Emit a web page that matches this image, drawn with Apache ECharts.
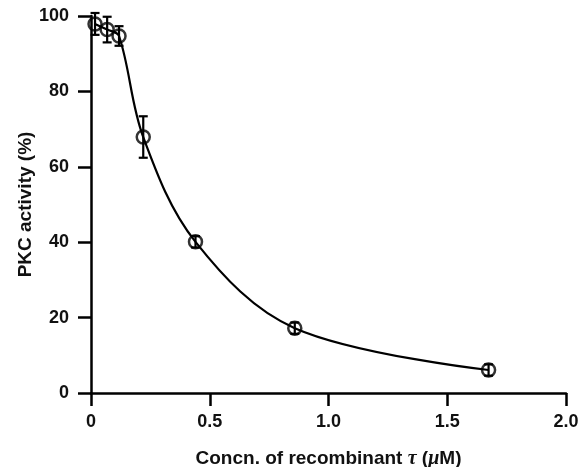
<!DOCTYPE html>
<html lang="en">
<head>
    <meta charset="UTF-8">
    <title>PKC activity</title>
    <script src="https://cdn.jsdelivr.net/npm/echarts@6/dist/echarts.min.js"></script>
    <style>
        body{ margin:0; background:#fff; }
        #main{ width:582px; height:467px; }
    </style>
</head>
<body>
    <div id="main"></div>
<script>
    // concentration (uM), activity (%), error (+/-)
    var concn = [0.017, 0.068, 0.118, 0.22, 0.44, 0.858, 1.674];
    var activity = [97.9, 96.4, 94.7, 67.9, 40.1, 17.2, 6.1];
    var errs = [2.9, 3.4, 2.6, 5.5, 1.5, 1.5, 1.5];
    var xTicks = ['0', '0.5', '1.0', '1.5', '2.0'];

    var pts = concn.map(function(x, i){ return [x, activity[i]]; });
    var errData = concn.map(function(x, i){ return [x, activity[i], errs[i]]; });

    var myChart = echarts.init(document.getElementById('main'));
    var lbl = { color:'#111', fontFamily:'Liberation Sans', fontWeight:'bold', fontSize:18 };

    var option = {
        animation: false,
        grid: { left: 91, right: 16, top: 16, bottom: 74, outerBoundsMode: 'none' },
        xAxis: {
            type: 'value', min: 0, max: 2, interval: 0.5,
            name: 'Concn. of recombinant {i|τ} ({i|μ}M)',
            nameLocation: 'middle', nameGap: 56,
            nameMoveOverlap: false,
            nameTextStyle: {
                color:'#111', fontFamily:'Liberation Sans', fontWeight:'bold', fontSize:19,
                rich: { i: { fontStyle:'italic', fontFamily:'Liberation Serif', fontWeight:'bold', fontSize:20, color:'#111' } }
            },
            axisLine: { lineStyle: { color:'#000', width:2.5 } },
            axisTick: { inside:false, length:13, lineStyle:{ color:'#000', width:2.5 } },
            axisLabel: Object.assign({ margin: 20, formatter: function(v){ return xTicks[Math.round(v / 0.5)]; } }, lbl),
            splitLine: { show:false }
        },
        yAxis: {
            type: 'value', min: 0, max: 100, interval: 20,
            name: 'PKC activity (%)',
            nameLocation: 'middle', nameGap: 56,
            nameMoveOverlap: false,
            nameTextStyle: { color:'#111', fontFamily:'Liberation Sans', fontWeight:'bold', fontSize:19 },
            axisLine: { show:true, lineStyle: { color:'#000', width:2.5 } },
            axisTick: { show:true, inside:false, length:13, lineStyle:{ color:'#000', width:2.5 } },
            axisLabel: Object.assign({ margin: 22 }, lbl),
            splitLine: { show:false }
        },
        series: [
            {
                type: 'line',
                data: pts,
                smooth: 0.35,
                symbol: 'none',
                lineStyle: { color:'#000', width:2.2 },
                z: 2
            },
            {
                type: 'custom',
                data: errData,
                renderItem: function(params, api){
                    var x = api.value(0), y = api.value(1), e = api.value(2);
                    var hi = api.coord([x, y + e]);
                    var lo = api.coord([x, y - e]);
                    var w = 4.5;
                    var st = { stroke:'#000', lineWidth:2.2 };
                    return { type:'group', children:[
                        { type:'line', shape:{ x1:hi[0], y1:hi[1], x2:lo[0], y2:lo[1] }, style: st },
                        { type:'line', shape:{ x1:hi[0]-w, y1:hi[1], x2:hi[0]+w, y2:hi[1] }, style: st },
                        { type:'line', shape:{ x1:lo[0]-w, y1:lo[1], x2:lo[0]+w, y2:lo[1] }, style: st }
                    ]};
                },
                z: 3
            },
            {
                type: 'scatter',
                data: pts,
                symbol: 'circle',
                symbolSize: 13,
                itemStyle: { color:'rgba(255,255,255,0)', borderColor:'#000', borderWidth:2.5 },
                z: 4
            }
        ]
    };
    myChart.setOption(option);
</script>
</body>
</html>
